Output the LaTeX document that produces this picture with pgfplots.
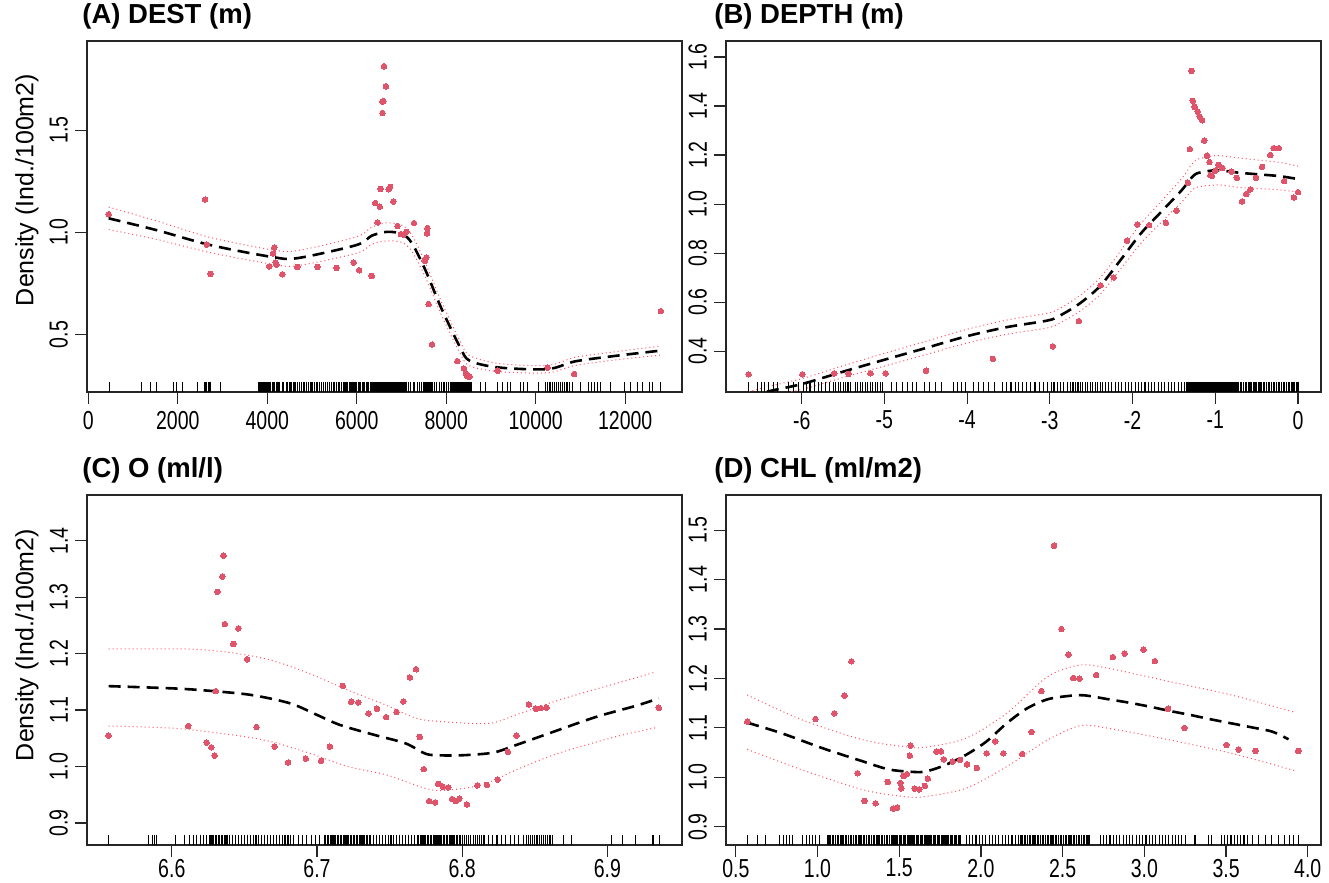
\documentclass[border=0pt]{standalone}
\usepackage{fontspec}
\setmainfont{Liberation Sans}
\newfontfamily\narrowfont[FakeStretch=0.75]{Liberation Sans}
\usepackage{pgfplots}
\pgfplotsset{compat=1.18}
\definecolor{ptred}{RGB}{223,83,107}
\definecolor{bandred}{RGB}{255,80,100}

\pgfplotsset{
  gamplot/.style={
    scale only axis, width=297.5pt,
    scaled x ticks=false, scaled y ticks=false,
    axis line style={black!85, line width=0.6pt},
    tick align=outside, xtick pos=left, ytick pos=left,
    major tick length=6pt,
    tick style={black!85, line width=0.6pt},
    tick label style={font=\narrowfont\fontsize{13}{15}\selectfont},
    yticklabel style={rotate=90, anchor=south},
    title style={font=\bfseries\fontsize{13.75}{16}\selectfont, at={(0,1)},
      anchor=base west, xshift=-2.5pt, yshift=2.5pt, inner sep=0pt},
  },
  fitline/.style={black, line width=1.3pt, dash pattern=on 6pt off 3.5pt, smooth},
  band/.style={bandred, line width=0.5pt, dash pattern=on 0.5pt off 1.5pt, smooth},
  pts/.style={only marks, mark=*, mark size=1.4pt, color=ptred,
    mark options={draw=ptred, fill=ptred, line width=0pt}},
  rug/.style={only marks, mark=|, mark size=2.5pt, black,
    mark options={line width=0.55pt, yshift=2.5pt}},
}

\begin{document}
\begin{tikzpicture}
\useasboundingbox (0,0) rectangle (664.5pt,441.5pt);

% ---------- (A) DEST ----------
\begin{axis}[gamplot, at={(43.5pt,245.5pt)}, anchor=south west, height=175.5pt,
  xmin=-30, xmax=13270, ymin=0.219, ymax=1.937,
  xtick={0,2000,4000,6000,8000,10000,12000},
  xticklabels={0,2000,4000,6000,8000,10000,12000},
  ytick={0.5,1.0,1.5}, yticklabels={0.5,1.0,1.5},
  title={(A) DEST (m)}]
\addplot[rug] coordinates {
(463,0.219)(1195,0.219)(1397,0.219)(1531,0.219)(1902,0.219)(1963,0.219)(2113,0.219)(2440,0.219)
(2590,0.219)(2620,0.219)(2650,0.219)(2680,0.219)(2700,0.219)(2720,0.219)(2740,0.219)(2963,0.219)
(3800,0.219)(3830,0.219)(3860,0.219)(3890,0.219)(3910,0.219)(3940,0.219)(3970,0.219)(4000,0.219)
(4020,0.219)(4050,0.219)(4080,0.219)(4110,0.219)(4130,0.219)(4170,0.219)(4200,0.219)(4240,0.219)
(4280,0.219)(4330,0.219)(4370,0.219)(4420,0.219)(4460,0.219)(4500,0.219)(4530,0.219)(4580,0.219)
(4620,0.219)(4680,0.219)(4720,0.219)(4760,0.219)(4800,0.219)(4840,0.219)(4880,0.219)(4920,0.219)
(4960,0.219)(5000,0.219)(5050,0.219)(5090,0.219)(5130,0.219)(5170,0.219)(5220,0.219)(5260,0.219)
(5300,0.219)(5350,0.219)(5390,0.219)(5430,0.219)(5470,0.219)(5510,0.219)(5550,0.219)(5590,0.219)
(5620,0.219)(5660,0.219)(5700,0.219)(5730,0.219)(5760,0.219)(5800,0.219)(5840,0.219)(5870,0.219)
(5900,0.219)(5930,0.219)(5960,0.219)(6000,0.219)(6030,0.219)(6060,0.219)(6090,0.219)(6120,0.219)
(6150,0.219)(6180,0.219)(6210,0.219)(6240,0.219)(6270,0.219)(6300,0.219)(6320,0.219)(6340,0.219)
(6360,0.219)(6380,0.219)(6400,0.219)(6420,0.219)(6440,0.219)(6460,0.219)(6480,0.219)(6500,0.219)
(6520,0.219)(6540,0.219)(6560,0.219)(6580,0.219)(6600,0.219)(6620,0.219)(6640,0.219)(6660,0.219)
(6680,0.219)(6700,0.219)(6720,0.219)(6740,0.219)(6760,0.219)(6780,0.219)(6800,0.219)(6820,0.219)
(6840,0.219)(6860,0.219)(6880,0.219)(6900,0.219)(6920,0.219)(6940,0.219)(6960,0.219)(6980,0.219)
(7000,0.219)(7020,0.219)(7040,0.219)(7060,0.219)(7080,0.219)(7100,0.219)(7120,0.219)(7160,0.219)
(7210,0.219)(7260,0.219)(7300,0.219)(7350,0.219)(7400,0.219)(7440,0.219)(7490,0.219)(7510,0.219)
(7530,0.219)(7550,0.219)(7570,0.219)(7590,0.219)(7610,0.219)(7630,0.219)(7650,0.219)(7670,0.219)
(7690,0.219)(7740,0.219)(7790,0.219)(7850,0.219)(7900,0.219)(7950,0.219)(8000,0.219)(8050,0.219)
(8090,0.219)(8110,0.219)(8130,0.219)(8150,0.219)(8170,0.219)(8190,0.219)(8210,0.219)(8230,0.219)
(8250,0.219)(8270,0.219)(8290,0.219)(8310,0.219)(8330,0.219)(8350,0.219)(8370,0.219)(8390,0.219)
(8410,0.219)(8430,0.219)(8450,0.219)(8470,0.219)(8490,0.219)(8510,0.219)(8530,0.219)(8550,0.219)
(8570,0.219)(8770,0.219)(8880,0.219)(9140,0.219)(9250,0.219)(9365,0.219)(9440,0.219)(9660,0.219)
(9735,0.219)(9810,0.219)(10070,0.219)(10220,0.219)(10260,0.219)(10300,0.219)(10340,0.219)(10380,0.219)
(10420,0.219)(10460,0.219)(10500,0.219)(10550,0.219)(10600,0.219)(10650,0.219)(10700,0.219)(10760,0.219)
(10820,0.219)(11000,0.219)(11180,0.219)(11250,0.219)(11320,0.219)(11390,0.219)(11450,0.219)(11680,0.219)
(11975,0.219)(12125,0.219)(12275,0.219)(12385,0.219)(12535,0.219)(12610,0.219)(12780,0.219)
};
\addplot[band] coordinates {
(455,1.124)(1528,1.056)(2730,0.975)(4103,0.915)(4670,0.911)(5991,0.978)(6335,1.026)(6678,1.047)
(7021,1.034)(7236,0.986)(7536,0.850)(7880,0.667)(8309,0.468)(8524,0.397)(9167,0.359)(10266,0.349)
(10884,0.389)(11828,0.417)(12773,0.443)};
\addplot[band] coordinates {
(455,1.014)(1528,0.966)(2730,0.901)(4103,0.845)(4670,0.837)(5991,0.898)(6335,0.942)(6678,0.959)
(7021,0.950)(7236,0.906)(7536,0.780)(7880,0.601)(8309,0.408)(8524,0.347)(9167,0.319)(10266,0.313)
(10884,0.349)(11828,0.377)(12773,0.399)};
\addplot[fitline] coordinates {
(455,1.069)(1528,1.011)(2730,0.938)(4103,0.880)(4670,0.874)(5991,0.938)(6335,0.984)(6678,1.003)
(7021,0.992)(7236,0.946)(7536,0.815)(7880,0.634)(8309,0.438)(8524,0.372)(9167,0.339)(10266,0.331)
(10884,0.369)(11828,0.397)(12773,0.421)};
\addplot[pts] coordinates {
(455,1.089)(2609,1.161)(2644,0.941)(2730,0.797)(4155,0.926)(4129,0.897)(4189,0.852)(4206,0.843)
(4043,0.834)(4335,0.795)(4670,0.831)(5124,0.831)(5545,0.826)(5931,0.852)(6052,0.815)(6335,0.787)
(6464,1.049)(6412,1.144)(6515,1.126)(6532,1.213)(6712,1.211)(6747,1.223)(6815,1.151)(6575,1.584)
(6575,1.641)(6592,1.643)(6652,1.715)(6609,1.813)(6910,1.031)(6987,0.992)(7047,0.989)(7107,1.003)
(7279,1.046)(7579,1.021)(7571,0.995)(7554,0.877)(7519,0.861)(7605,0.649)(7682,0.451)(8249,0.370)
(8395,0.334)(8438,0.310)(8464,0.300)(8524,0.295)(8489,0.295)(9150,0.323)(10266,0.339)(10858,0.307)
(12798,0.615)};
\end{axis}

% ---------- (B) DEPTH ----------
\begin{axis}[gamplot, at={(363pt,245.5pt)}, anchor=south west, height=175.5pt,
  xmin=-6.915, xmax=0.278, ymin=0.234, ymax=1.665,
  xtick={-6,-5,-4,-3,-2,-1,0}, xticklabels={-6,-5,-4,-3,-2,-1,0},
  ytick={0.4,0.6,0.8,1.0,1.2,1.4,1.6}, yticklabels={0.4,0.6,0.8,1.0,1.2,1.4,1.6},
  title style={xshift=-3.5pt},
  title={(B) DEPTH (m)}]
\addplot[rug] coordinates {
(-6.64,0.234)(-6.53,0.234)(-6.49,0.234)(-6.45,0.234)(-6.40,0.234)(-6.34,0.234)(-6.29,0.234)(-6.16,0.234)
(-6.10,0.234)(-6.04,0.234)(-5.98,0.234)(-5.94,0.234)(-5.90,0.234)(-5.85,0.234)(-5.80,0.234)(-5.76,0.234)
(-5.71,0.234)(-5.66,0.234)(-5.62,0.234)(-5.59,0.234)(-5.56,0.234)(-5.53,0.234)(-5.50,0.234)(-5.47,0.234)
(-5.44,0.234)(-5.41,0.234)(-5.35,0.234)(-5.32,0.234)(-5.29,0.234)(-5.26,0.234)(-5.23,0.234)(-5.20,0.234)
(-5.17,0.234)(-5.14,0.234)(-5.11,0.234)(-5.08,0.234)(-5.05,0.234)(-5.02,0.234)(-4.91,0.234)(-4.85,0.234)
(-4.78,0.234)(-4.72,0.234)(-4.66,0.234)(-4.61,0.234)(-4.51,0.234)(-4.45,0.234)(-4.38,0.234)(-4.31,0.234)
(-4.17,0.234)(-4.12,0.234)(-4.07,0.234)(-4.02,0.234)(-3.92,0.234)(-3.86,0.234)(-3.80,0.234)(-3.74,0.234)
(-3.67,0.234)(-3.57,0.234)(-3.52,0.234)(-3.47,0.234)(-3.42,0.234)(-3.38,0.234)(-3.33,0.234)(-3.28,0.234)
(-3.23,0.234)(-3.18,0.234)(-3.13,0.234)(-3.08,0.234)(-3.03,0.234)(-2.98,0.234)(-2.95,0.234)(-2.91,0.234)
(-2.87,0.234)(-2.83,0.234)(-2.79,0.234)(-2.75,0.234)(-2.72,0.234)(-2.69,0.234)(-2.66,0.234)(-2.63,0.234)
(-2.60,0.234)(-2.57,0.234)(-2.54,0.234)(-2.51,0.234)(-2.48,0.234)(-2.45,0.234)(-2.42,0.234)(-2.39,0.234)
(-2.36,0.234)(-2.33,0.234)(-2.29,0.234)(-2.25,0.234)(-2.21,0.234)(-2.17,0.234)(-2.13,0.234)(-2.09,0.234)
(-2.05,0.234)(-2.01,0.234)(-1.97,0.234)(-1.93,0.234)(-1.89,0.234)(-1.85,0.234)(-1.81,0.234)(-1.77,0.234)
(-1.73,0.234)(-1.69,0.234)(-1.65,0.234)(-1.61,0.234)(-1.57,0.234)(-1.53,0.234)(-1.49,0.234)(-1.45,0.234)
(-1.41,0.234)(-1.37,0.234)(-1.34,0.234)(-1.32,0.234)(-1.30,0.234)(-1.28,0.234)(-1.26,0.234)(-1.24,0.234)
(-1.22,0.234)(-1.20,0.234)(-1.18,0.234)(-1.16,0.234)(-1.14,0.234)(-1.12,0.234)(-1.10,0.234)(-1.08,0.234)
(-1.06,0.234)(-1.04,0.234)(-1.02,0.234)(-1.00,0.234)(-0.98,0.234)(-0.96,0.234)(-0.94,0.234)(-0.92,0.234)
(-0.90,0.234)(-0.88,0.234)(-0.86,0.234)(-0.84,0.234)(-0.82,0.234)(-0.80,0.234)(-0.78,0.234)(-0.76,0.234)
(-0.74,0.234)(-0.72,0.234)(-0.70,0.234)(-0.68,0.234)(-0.66,0.234)(-0.64,0.234)(-0.62,0.234)(-0.60,0.234)
(-0.58,0.234)(-0.56,0.234)(-0.54,0.234)(-0.52,0.234)(-0.50,0.234)(-0.48,0.234)(-0.46,0.234)(-0.44,0.234)
(-0.42,0.234)(-0.40,0.234)(-0.38,0.234)(-0.36,0.234)(-0.34,0.234)(-0.32,0.234)(-0.30,0.234)(-0.28,0.234)
(-0.26,0.234)(-0.24,0.234)(-0.22,0.234)(-0.20,0.234)(-0.18,0.234)(-0.16,0.234)(-0.14,0.234)(-0.12,0.234)
(-0.10,0.234)(-0.08,0.234)(-0.06,0.234)(-0.04,0.234)(-0.02,0.234)(0,0.234)
(-1.35,0.234)(-1.33,0.234)(-1.31,0.234)(-1.29,0.234)(-1.27,0.234)(-1.25,0.234)(-1.23,0.234)(-1.21,0.234)
(-1.19,0.234)(-1.17,0.234)(-1.15,0.234)(-1.13,0.234)(-1.11,0.234)(-1.09,0.234)(-1.07,0.234)(-1.05,0.234)
(-1.03,0.234)(-1.01,0.234)(-0.99,0.234)(-0.97,0.234)(-0.95,0.234)(-0.93,0.234)(-0.91,0.234)(-0.89,0.234)
(-0.87,0.234)(-0.85,0.234)(-0.83,0.234)(-0.81,0.234)(-0.79,0.234)(-0.77,0.234)(-0.75,0.234)(-0.73,0.234)
};
\addplot[band] coordinates {
(-6.642,0.235)(-6.385,0.258)(-5.991,0.289)(-5.498,0.341)(-5.005,0.391)(-4.512,0.439)(-4.019,0.488)
(-3.526,0.527)(-3.033,0.555)(-2.885,0.574)(-2.638,0.627)(-2.392,0.700)(-2.145,0.809)(-1.898,0.921)
(-1.652,1.012)(-1.405,1.105)(-1.257,1.173)(-1.134,1.190)(-0.962,1.198)(-0.715,1.188)(-0.468,1.179)
(-0.222,1.170)(0,1.155)};
\addplot[band] coordinates {
(-6.642,0.195)(-6.385,0.218)(-5.991,0.245)(-5.498,0.293)(-5.005,0.339)(-4.512,0.385)(-4.019,0.432)
(-3.526,0.469)(-3.033,0.495)(-2.885,0.514)(-2.638,0.563)(-2.392,0.632)(-2.145,0.735)(-1.898,0.841)
(-1.652,0.926)(-1.405,1.009)(-1.257,1.063)(-1.134,1.074)(-0.962,1.078)(-0.715,1.068)(-0.468,1.063)
(-0.222,1.058)(0,1.049)};
\addplot[fitline] coordinates {
(-6.642,0.215)(-6.385,0.238)(-5.991,0.267)(-5.498,0.317)(-5.005,0.365)(-4.512,0.412)(-4.019,0.460)
(-3.526,0.498)(-3.033,0.525)(-2.885,0.544)(-2.638,0.595)(-2.392,0.666)(-2.145,0.772)(-1.898,0.881)
(-1.652,0.969)(-1.405,1.057)(-1.257,1.118)(-1.134,1.132)(-0.962,1.138)(-0.715,1.128)(-0.468,1.121)
(-0.222,1.114)(0,1.102)};
\addplot[pts] coordinates {
(-6.642,0.306)(-5.991,0.306)(-5.607,0.310)(-5.434,0.308)(-5.168,0.310)(-4.985,0.310)(-4.497,0.321)
(-3.688,0.369)(-2.964,0.420)(-2.648,0.523)(-2.387,0.669)(-2.229,0.701)(-2.066,0.851)(-1.943,0.917)
(-1.800,0.914)(-1.598,0.924)(-1.469,0.973)(-1.331,1.087)(-1.307,1.224)(-1.287,1.543)(-1.272,1.421)
(-1.252,1.399)(-1.248,1.396)(-1.213,1.377)(-1.188,1.357)(-1.159,1.342)(-1.134,1.259)(-1.100,1.197)
(-1.070,1.171)(-1.060,1.118)(-1.040,1.115)(-1.001,1.136)(-0.962,1.160)(-0.912,1.147)(-0.804,1.133)
(-0.740,1.107)(-0.676,1.011)(-0.626,1.041)(-0.577,1.060)(-0.508,1.107)(-0.434,1.152)(-0.335,1.200)
(-0.296,1.228)(-0.232,1.228)(-0.168,1.094)(-0.049,1.027)(0.0,1.049)};
\end{axis}

% ---------- (C) O ----------
\begin{axis}[gamplot, at={(43.5pt,19pt)}, anchor=south west, height=175pt,
  xmin=6.5416, xmax=6.9514, ymin=0.861, ymax=1.481,
  xtick={6.6,6.7,6.8,6.9}, xticklabels={6.6,6.7,6.8,6.9},
  xticklabel style={yshift=2.5pt},
  ytick={0.9,1.0,1.1,1.2,1.3,1.4}, yticklabels={0.9,1.0,1.1,1.2,1.3,1.4},
  title={(C) O (ml/l)}]
\addplot[rug] coordinates {
(6.5565,0.861)(6.5842,0.861)(6.5870,0.861)(6.5880,0.861)(6.5895,0.861)(6.6026,0.861)(6.6090,0.861)
(6.6120,0.861)(6.6150,0.861)(6.6170,0.861)(6.6195,0.861)(6.6220,0.861)(6.6240,0.861)(6.6260,0.861)
(6.627,0.861)(6.628,0.861)(6.629,0.861)(6.630,0.861)(6.631,0.861)(6.632,0.861)(6.633,0.861)(6.634,0.861)
(6.635,0.861)(6.636,0.861)(6.637,0.861)(6.638,0.861)(6.640,0.861)(6.642,0.861)(6.644,0.861)(6.646,0.861)
(6.648,0.861)(6.650,0.861)(6.652,0.861)(6.654,0.861)(6.656,0.861)(6.658,0.861)(6.660,0.861)(6.662,0.861)
(6.664,0.861)(6.666,0.861)(6.668,0.861)(6.670,0.861)(6.672,0.861)(6.674,0.861)(6.676,0.861)(6.678,0.861)
(6.680,0.861)(6.682,0.861)(6.684,0.861)(6.687,0.861)(6.690,0.861)(6.693,0.861)(6.696,0.861)(6.699,0.861)
(6.702,0.861)(6.705,0.861)(6.706,0.861)(6.707,0.861)(6.708,0.861)(6.709,0.861)(6.710,0.861)(6.711,0.861)
(6.712,0.861)(6.713,0.861)(6.714,0.861)(6.715,0.861)(6.716,0.861)(6.717,0.861)(6.718,0.861)(6.719,0.861)
(6.720,0.861)(6.721,0.861)(6.722,0.861)(6.723,0.861)(6.724,0.861)(6.725,0.861)(6.726,0.861)(6.727,0.861)
(6.728,0.861)(6.729,0.861)(6.730,0.861)(6.731,0.861)(6.732,0.861)(6.733,0.861)(6.734,0.861)(6.735,0.861)
(6.736,0.861)(6.737,0.861)(6.739,0.861)(6.741,0.861)(6.743,0.861)(6.745,0.861)(6.747,0.861)(6.749,0.861)
(6.751,0.861)(6.753,0.861)(6.755,0.861)(6.757,0.861)(6.759,0.861)(6.761,0.861)(6.763,0.861)(6.765,0.861)
(6.767,0.861)(6.769,0.861)(6.770,0.861)(6.771,0.861)(6.772,0.861)(6.773,0.861)(6.774,0.861)(6.775,0.861)
(6.776,0.861)(6.777,0.861)(6.778,0.861)(6.779,0.861)(6.780,0.861)(6.781,0.861)(6.782,0.861)(6.783,0.861)
(6.784,0.861)(6.785,0.861)(6.786,0.861)(6.787,0.861)(6.788,0.861)(6.789,0.861)(6.790,0.861)(6.791,0.861)
(6.792,0.861)(6.793,0.861)(6.794,0.861)(6.795,0.861)(6.796,0.861)(6.797,0.861)(6.798,0.861)(6.799,0.861)
(6.800,0.861)(6.8015,0.861)(6.803,0.861)(6.8045,0.861)(6.806,0.861)(6.8075,0.861)(6.809,0.861)(6.8105,0.861)
(6.812,0.861)(6.8135,0.861)(6.815,0.861)(6.818,0.861)(6.821,0.861)(6.824,0.861)(6.827,0.861)(6.830,0.861)
(6.833,0.861)(6.836,0.861)(6.839,0.861)(6.842,0.861)(6.844,0.861)(6.8455,0.861)(6.847,0.861)(6.8485,0.861)
(6.850,0.861)(6.8515,0.861)(6.853,0.861)(6.8545,0.861)(6.856,0.861)(6.8575,0.861)(6.859,0.861)(6.8605,0.861)
(6.862,0.861)(6.870,0.861)(6.8755,0.861)(6.903,0.861)(6.9106,0.861)(6.9195,0.861)(6.9314,0.861)(6.9356,0.861)
};
\addplot[band] coordinates {
(6.5565,1.2082)(6.6105,1.2082)(6.6422,1.2012)(6.6685,1.1882)(6.6949,1.1647)(6.7213,1.1353)(6.7476,1.1088)
(6.7687,1.0853)(6.7872,1.0794)(6.8188,1.0765)(6.8399,1.0941)(6.8663,1.1176)(6.9058,1.1471)(6.9335,1.1676)};
\addplot[band] coordinates {
(6.5565,1.0718)(6.6026,1.0676)(6.6422,1.0559)(6.6685,1.0441)(6.6949,1.0235)(6.7213,1.0000)(6.7476,0.9853)
(6.7740,0.9618)(6.7872,0.9576)(6.8136,0.9676)(6.8399,0.9971)(6.8663,1.0235)(6.9058,1.0529)(6.9335,1.0688)};
\addplot[fitline] coordinates {
(6.5565,1.1424)(6.6026,1.1382)(6.6290,1.1335)(6.6554,1.1265)(6.6817,1.1118)(6.7002,1.0912)(6.7160,1.0735)
(6.7397,1.0559)(6.7608,1.0412)(6.7740,1.0235)(6.7819,1.0200)(6.8004,1.0200)(6.8215,1.0247)(6.8373,1.0382)
(6.8663,1.0647)(6.8926,1.0882)(6.9190,1.1071)(6.9354,1.1206)};
\addplot[pts] coordinates {
(6.5565,1.0547)(6.6113,1.0718)(6.6240,1.0424)(6.6272,1.0341)(6.6295,1.0194)(6.6303,1.1335)(6.6314,1.3094)
(6.6348,1.3365)(6.6356,1.3735)(6.6366,1.2524)(6.6424,1.2171)(6.6459,1.2447)(6.6519,1.1900)(6.6583,1.0700)
(6.6709,1.0353)(6.6801,1.0071)(6.6923,1.0141)(6.7028,1.0100)(6.7089,1.0353)(6.7178,1.1429)(6.7236,1.1147)
(6.7284,1.1135)(6.7355,1.0941)(6.7413,1.1024)(6.7476,1.0876)(6.7548,1.0965)(6.7595,1.1153)(6.7640,1.1576)
(6.7682,1.1724)(6.7708,1.0524)(6.7735,0.9953)(6.7772,0.9388)(6.7814,0.9365)(6.7835,0.9694)(6.7867,0.9641)
(6.7904,0.9629)(6.7930,0.9424)(6.7956,0.9388)(6.7980,0.9429)(6.8033,0.9329)(6.8104,0.9665)(6.8170,0.9676)
(6.8244,0.9771)(6.8315,1.0259)(6.8375,1.0547)(6.8460,1.1100)(6.8507,1.1024)(6.8542,1.1035)(6.8581,1.1041)
(6.9354,1.1041)};
\end{axis}

% ---------- (D) CHL ----------
\begin{axis}[gamplot, at={(363pt,19pt)}, anchor=south west, height=175pt,
  xmin=0.44, xmax=4.081, ymin=0.863, ymax=1.5714,
  xtick={0.5,1.0,1.5,2.0,2.5,3.0,3.5,4.0},
  xticklabels={0.5,1.0,1.5,2.0,2.5,3.0,3.5,4.0},
  xticklabel style={yshift=2.5pt},
  ytick={0.9,1.0,1.1,1.2,1.3,1.4,1.5}, yticklabels={0.9,1.0,1.1,1.2,1.3,1.4,1.5},
  title style={xshift=-3.5pt},
  title={(D) CHL (ml/m2)}]
\addplot[rug] coordinates {
(0.57,0.863)(0.63,0.863)(0.68,0.863)(0.77,0.863)(0.79,0.863)(0.81,0.863)(0.83,0.863)(0.845,0.863)
(0.91,0.863)(0.93,0.863)(0.95,0.863)(0.97,0.863)(0.99,0.863)(1.01,0.863)
(1.06,0.863)(1.07,0.863)(1.08,0.863)(1.09,0.863)(1.10,0.863)(1.11,0.863)(1.12,0.863)(1.13,0.863)
(1.14,0.863)(1.15,0.863)(1.16,0.863)(1.17,0.863)(1.18,0.863)(1.19,0.863)(1.20,0.863)(1.21,0.863)
(1.22,0.863)(1.23,0.863)(1.24,0.863)(1.25,0.863)(1.26,0.863)(1.27,0.863)(1.28,0.863)(1.29,0.863)
(1.30,0.863)(1.31,0.863)(1.32,0.863)(1.33,0.863)(1.34,0.863)(1.35,0.863)(1.36,0.863)(1.37,0.863)
(1.38,0.863)(1.39,0.863)(1.40,0.863)(1.41,0.863)(1.42,0.863)(1.43,0.863)(1.44,0.863)(1.45,0.863)
(1.46,0.863)(1.468,0.863)(1.476,0.863)(1.484,0.863)(1.492,0.863)(1.500,0.863)(1.508,0.863)(1.516,0.863)
(1.524,0.863)(1.532,0.863)(1.540,0.863)(1.548,0.863)(1.556,0.863)(1.564,0.863)(1.572,0.863)(1.580,0.863)
(1.588,0.863)(1.596,0.863)(1.604,0.863)(1.612,0.863)(1.620,0.863)(1.628,0.863)(1.636,0.863)(1.644,0.863)
(1.652,0.863)(1.660,0.863)(1.668,0.863)(1.676,0.863)(1.684,0.863)(1.692,0.863)(1.700,0.863)(1.708,0.863)
(1.716,0.863)(1.724,0.863)(1.732,0.863)(1.740,0.863)(1.748,0.863)(1.756,0.863)(1.764,0.863)(1.772,0.863)
(1.780,0.863)(1.788,0.863)(1.796,0.863)(1.804,0.863)(1.812,0.863)(1.820,0.863)(1.828,0.863)(1.836,0.863)
(1.844,0.863)(1.852,0.863)(1.860,0.863)(1.868,0.863)(1.876,0.863)
(1.91,0.863)(1.93,0.863)(1.95,0.863)(1.97,0.863)(1.99,0.863)(2.01,0.863)(2.03,0.863)(2.05,0.863)
(2.07,0.863)(2.09,0.863)(2.11,0.863)(2.13,0.863)(2.15,0.863)(2.17,0.863)(2.19,0.863)(2.21,0.863)
(2.23,0.863)(2.245,0.863)(2.255,0.863)(2.265,0.863)(2.275,0.863)(2.285,0.863)(2.295,0.863)(2.305,0.863)
(2.315,0.863)(2.325,0.863)(2.335,0.863)(2.345,0.863)(2.355,0.863)(2.365,0.863)(2.375,0.863)(2.385,0.863)
(2.395,0.863)(2.405,0.863)(2.415,0.863)(2.425,0.863)(2.435,0.863)(2.445,0.863)(2.455,0.863)(2.465,0.863)
(2.475,0.863)(2.485,0.863)(2.495,0.863)(2.505,0.863)(2.515,0.863)(2.525,0.863)(2.535,0.863)(2.545,0.863)
(2.555,0.863)(2.565,0.863)(2.575,0.863)(2.585,0.863)(2.595,0.863)(2.605,0.863)(2.615,0.863)(2.625,0.863)
(2.635,0.863)(2.645,0.863)(2.655,0.863)(2.665,0.863)
(2.73,0.863)(2.75,0.863)(2.77,0.863)(2.79,0.863)(2.81,0.863)(2.83,0.863)(2.85,0.863)(2.87,0.863)
(2.89,0.863)(2.91,0.863)(2.93,0.863)(2.95,0.863)(2.97,0.863)(2.99,0.863)(3.01,0.863)(3.03,0.863)
(3.05,0.863)(3.07,0.863)(3.09,0.863)(3.11,0.863)(3.13,0.863)(3.15,0.863)(3.17,0.863)(3.19,0.863)
(3.21,0.863)(3.23,0.863)(3.25,0.863)(3.31,0.863)(3.395,0.863)(3.41,0.863)(3.47,0.863)(3.49,0.863)
(3.51,0.863)(3.53,0.863)(3.55,0.863)(3.57,0.863)(3.59,0.863)(3.61,0.863)(3.63,0.863)(3.66,0.863)
(3.70,0.863)(3.74,0.863)(3.78,0.863)(3.82,0.863)(3.86,0.863)(3.89,0.863)(3.91,0.863)(3.945,0.863)
};
\addplot[band] coordinates {
(0.57,1.1666)(0.9075,1.1160)(1.2825,1.0755)(1.5325,1.0620)(1.6575,1.0607)(1.9075,1.0789)(2.1575,1.1295)
(2.4075,1.2036)(2.6075,1.2272)(2.7825,1.2205)(3.1575,1.1935)(3.5325,1.1666)(3.92,1.1315)};
\addplot[band] coordinates {
(0.57,1.0566)(0.9075,1.0148)(1.2825,0.9744)(1.5325,0.9609)(1.6575,0.9609)(1.9075,0.9777)(2.1575,1.0216)
(2.4075,1.0755)(2.6075,1.1045)(2.7825,1.0991)(3.1575,1.0755)(3.5325,1.0486)(3.92,1.0135)};
\addplot[fitline] coordinates {
(0.57,1.1106)(0.7825,1.0890)(1.0325,1.0587)(1.2825,1.0317)(1.4325,1.0162)(1.5575,1.0115)(1.6575,1.0115)
(1.7825,1.0249)(1.9075,1.0452)(2.0325,1.0722)(2.1575,1.1092)(2.2825,1.1396)(2.4075,1.1578)(2.5325,1.1645)
(2.6325,1.1659)(2.7825,1.1578)(2.9075,1.1510)(3.0325,1.1430)(3.1575,1.1342)(3.2825,1.1261)(3.4075,1.1173)
(3.5325,1.1092)(3.6575,1.1011)(3.7825,1.0924)(3.8825,1.0769)};
\addplot[pts] coordinates {
(0.57,1.1126)(0.9875,1.1180)(1.1025,1.1295)(1.165,1.1652)(1.2075,1.2347)(1.245,1.0081)(1.2875,0.9521)
(1.355,0.9474)(1.43,0.9906)(1.4625,0.9366)(1.4875,0.9386)(1.5075,0.9885)(1.5125,0.9777)(1.5275,1.0027)
(1.5475,1.0067)(1.565,1.0438)(1.57,1.0641)(1.595,0.9771)(1.6225,0.9757)(1.6575,0.9825)(1.675,0.9973)
(1.7275,1.0519)(1.755,1.0526)(1.7725,1.0364)(1.8275,1.0317)(1.8725,1.0351)(1.915,1.0263)(1.975,1.0189)
(2.035,1.0486)(2.0875,1.0728)(2.1375,1.0486)(2.2525,1.0472)(2.31,1.0917)(2.37,1.1746)(2.4475,1.4687)
(2.4925,1.3001)(2.535,1.2481)(2.565,1.2009)(2.6025,1.1996)(2.705,1.2070)(2.8075,1.2434)(2.88,1.2502)
(2.995,1.2583)(3.065,1.2353)(3.145,1.1389)(3.245,1.0998)(3.5025,1.0654)(3.5775,1.0560)(3.68,1.0533)
(3.9425,1.0533)};
\end{axis}

\node[rotate=90, font=\fontsize{12.5}{15}\selectfont] at (13.5pt,346.5pt) {Density (Ind./100m2)};
\node[rotate=90, font=\fontsize{12.5}{15}\selectfont] at (13.5pt,119pt) {Density (Ind./100m2)};
\end{tikzpicture}
\end{document}
